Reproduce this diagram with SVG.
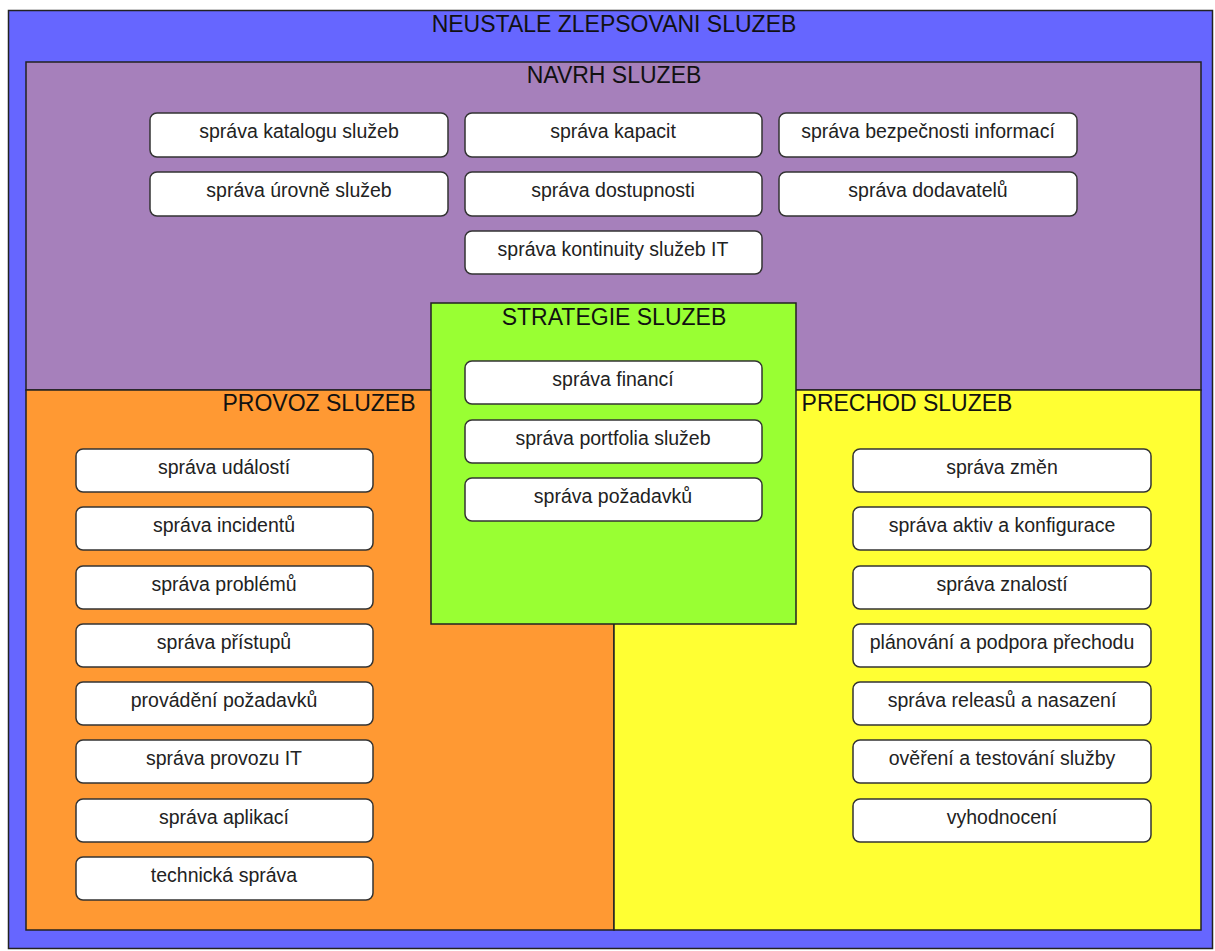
<svg xmlns="http://www.w3.org/2000/svg" width="1215" height="951" viewBox="0 0 1215 951">
<style>
.area{stroke:#222;stroke-width:1.5}
.box{fill:#fff;stroke:#333;stroke-width:1.5}
.t{font-family:"Liberation Sans",Arial,sans-serif;font-size:19.5px;fill:#222;text-anchor:middle}
.h{font-family:"Liberation Sans",Arial,sans-serif;font-size:23px;fill:#111;text-anchor:middle}
</style>
<rect width="1215" height="951" fill="#fff"/>
<g id="neustale">
<rect class="area" x="8.5" y="10.5" width="1204" height="938" fill="#6666ff"/>
<text class="h" x="614" y="32">NEUSTALE ZLEPSOVANI SLUZEB</text>
</g>
<g id="navrh">
<rect class="area" x="26" y="62" width="1175" height="328" fill="#a680bb"/>
<text class="h" x="614" y="83">NAVRH SLUZEB</text>
</g>
<g id="provoz">
<rect class="area" x="26" y="390" width="588" height="540" fill="#ff9933"/>
<text class="h" x="319" y="411">PROVOZ SLUZEB</text>
</g>
<g id="prechod">
<rect class="area" x="614" y="390" width="587" height="540" fill="#ffff33"/>
<text class="h" x="907" y="411">PRECHOD SLUZEB</text>
</g>
<g id="strategie">
<rect class="area" x="431" y="303" width="365" height="321" fill="#99ff33"/>
<text class="h" x="614" y="325">STRATEGIE SLUZEB</text>
</g>
<g id="connectors"></g>
<g id="navrh-items">
<g id="n1"><rect class="box" x="150" y="113" width="298" height="44" rx="7"/><text class="t" x="299" y="138">správa katalogu služeb</text></g>
<g id="n2"><rect class="box" x="465" y="113" width="297" height="44" rx="7"/><text class="t" x="613" y="138">správa kapacit</text></g>
<g id="n3"><rect class="box" x="779" y="113" width="298" height="44" rx="7"/><text class="t" x="928" y="138">správa bezpečnosti informací</text></g>
<g id="n4"><rect class="box" x="150" y="172" width="298" height="44" rx="7"/><text class="t" x="299" y="197">správa úrovně služeb</text></g>
<g id="n5"><rect class="box" x="465" y="172" width="297" height="44" rx="7"/><text class="t" x="613" y="197">správa dostupnosti</text></g>
<g id="n6"><rect class="box" x="779" y="172" width="298" height="44" rx="7"/><text class="t" x="928" y="197">správa dodavatelů</text></g>
<g id="n7"><rect class="box" x="465" y="231" width="297" height="43" rx="7"/><text class="t" x="613" y="256">správa kontinuity služeb IT</text></g>
</g>
<g id="strategie-items">
<g id="s1"><rect class="box" x="465" y="361" width="297" height="43" rx="7"/><text class="t" x="613" y="386">správa financí</text></g>
<g id="s2"><rect class="box" x="465" y="420" width="297" height="43" rx="7"/><text class="t" x="613" y="445">správa portfolia služeb</text></g>
<g id="s3"><rect class="box" x="465" y="478" width="297" height="43" rx="7"/><text class="t" x="613" y="503">správa požadavků</text></g>
</g>
<g id="provoz-items">
<g id="p1"><rect class="box" x="76" y="449" width="297" height="43" rx="7"/><text class="t" x="224" y="474">správa událostí</text></g>
<g id="p2"><rect class="box" x="76" y="507" width="297" height="43" rx="7"/><text class="t" x="224" y="532">správa incidentů</text></g>
<g id="p3"><rect class="box" x="76" y="566" width="297" height="43" rx="7"/><text class="t" x="224" y="591">správa problémů</text></g>
<g id="p4"><rect class="box" x="76" y="624" width="297" height="43" rx="7"/><text class="t" x="224" y="649">správa přístupů</text></g>
<g id="p5"><rect class="box" x="76" y="682" width="297" height="43" rx="7"/><text class="t" x="224" y="707">provádění požadavků</text></g>
<g id="p6"><rect class="box" x="76" y="740" width="297" height="43" rx="7"/><text class="t" x="224" y="765">správa provozu IT</text></g>
<g id="p7"><rect class="box" x="76" y="799" width="297" height="43" rx="7"/><text class="t" x="224" y="824">správa aplikací</text></g>
<g id="p8"><rect class="box" x="76" y="857" width="297" height="43" rx="7"/><text class="t" x="224" y="882">technická správa</text></g>
</g>
<g id="prechod-items">
<g id="r1"><rect class="box" x="853" y="449" width="298" height="43" rx="7"/><text class="t" x="1002" y="474">správa změn</text></g>
<g id="r2"><rect class="box" x="853" y="507" width="298" height="43" rx="7"/><text class="t" x="1002" y="532">správa aktiv a konfigurace</text></g>
<g id="r3"><rect class="box" x="853" y="566" width="298" height="43" rx="7"/><text class="t" x="1002" y="591">správa znalostí</text></g>
<g id="r4"><rect class="box" x="853" y="624" width="298" height="43" rx="7"/><text class="t" x="1002" y="649">plánování a podpora přechodu</text></g>
<g id="r5"><rect class="box" x="853" y="682" width="298" height="43" rx="7"/><text class="t" x="1002" y="707">správa releasů a nasazení</text></g>
<g id="r6"><rect class="box" x="853" y="740" width="298" height="43" rx="7"/><text class="t" x="1002" y="765">ověření a testování služby</text></g>
<g id="r7"><rect class="box" x="853" y="799" width="298" height="43" rx="7"/><text class="t" x="1002" y="824">vyhodnocení</text></g>
</g>
</svg>
